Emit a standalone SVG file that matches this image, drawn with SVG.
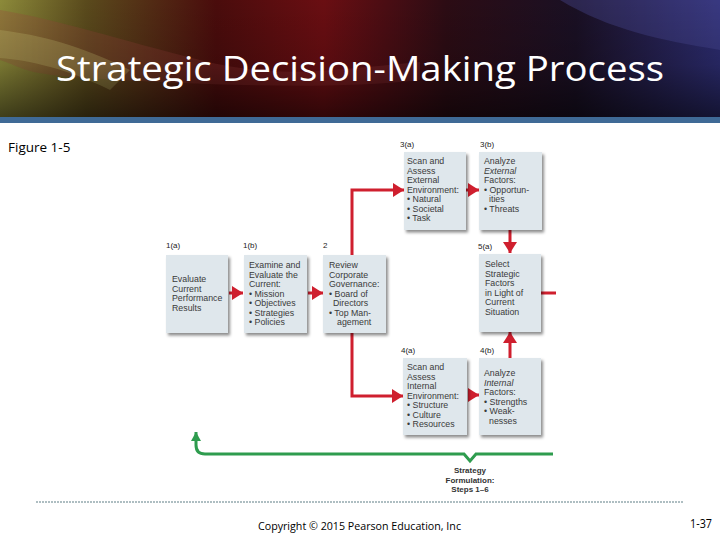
<svg xmlns="http://www.w3.org/2000/svg" width="720" height="540" viewBox="0 0 720 540">
<defs>
<style>
.box{fill:#dfe7ec;filter:url(#sh)}
.t{font-family:"Liberation Sans",Arial,sans-serif;font-size:8.8px;fill:#3a3a3a}
.lb{font-family:"Liberation Sans",Arial,sans-serif;font-size:8px;fill:#222}
.red{stroke:#cf1f2e;stroke-width:3;fill:none}
.grn{stroke:#2e9c4e;stroke-width:3;fill:none}
</style>
<filter id="sh" x="-20%" y="-20%" width="140%" height="140%">
<feDropShadow dx="2" dy="2.5" stdDeviation="1.6" flood-color="#000" flood-opacity="0.45"/>
</filter>
<marker id="ar" markerUnits="userSpaceOnUse" markerWidth="12" markerHeight="14" refX="11" refY="7" orient="auto">
<path d="M0,0 L11,7 L0,14 Z" fill="#cf1f2e"/>
</marker>
<marker id="ag" markerUnits="userSpaceOnUse" markerWidth="10" markerHeight="10" refX="9" refY="5" orient="auto">
<path d="M0,0 L9,5 L0,10 Z" fill="#2e9c4e"/>
</marker>
<linearGradient id="hg" x1="0" y1="0" x2="1" y2="0">
<stop offset="0" stop-color="#8c8a3a"/>
<stop offset="0.12" stop-color="#5a4a1c"/>
<stop offset="0.3" stop-color="#4a0c0c"/>
<stop offset="0.45" stop-color="#6a0e12"/>
<stop offset="0.62" stop-color="#2c0c14"/>
<stop offset="0.8" stop-color="#1a1024"/>
<stop offset="1" stop-color="#2c2c70"/>
</linearGradient>
<linearGradient id="hv" x1="0" y1="0" x2="0" y2="1">
<stop offset="0" stop-color="#000" stop-opacity="0"/>
<stop offset="0.55" stop-color="#000" stop-opacity="0.15"/>
<stop offset="1" stop-color="#000" stop-opacity="0.55"/>
</linearGradient>
</defs>
<rect width="720" height="540" fill="#ffffff"/>
<g id="header">
<rect x="0" y="0" width="720" height="118" fill="url(#hg)"/>
<path d="M0,10 C60,20 120,40 200,60 S330,70 420,62 L420,80 C330,90 220,85 120,80 S30,70 0,60 Z" fill="#a04040" opacity="0.25"/>
<path d="M0,30 C40,35 80,45 130,70 L110,90 C70,70 30,60 0,58 Z" fill="#c8c070" opacity="0.3"/>
<path d="M560,0 L720,0 L720,50 C660,40 610,30 560,0 Z" fill="#5050a0" opacity="0.35"/>
<rect x="0" y="0" width="720" height="118" fill="url(#hv)"/>
<rect x="0" y="117" width="720" height="6" fill="#3f6a96"/>
<text x="56" y="81" font-family="'Open Sans','Liberation Sans',sans-serif" font-size="35" fill="#ffffff" textLength="608" lengthAdjust="spacingAndGlyphs">Strategic Decision-Making Process</text>
</g>
<text x="8" y="152" font-family="'Open Sans','Liberation Sans',sans-serif" font-size="13.5" fill="#000">Figure 1-5</text>
<g id="connectors">
<line class="red" x1="229" y1="293" x2="243" y2="293" marker-end="url(#ar)"/>
<line class="red" x1="308" y1="293" x2="323" y2="293" marker-end="url(#ar)"/>
<polyline class="red" points="352,255 352,190 404,190" marker-end="url(#ar)"/>
<polyline class="red" points="352,333 352,396 403,396" marker-end="url(#ar)"/>
<line class="red" x1="466" y1="190" x2="479" y2="190" marker-end="url(#ar)"/>
<line class="red" x1="468" y1="395" x2="479" y2="395" marker-end="url(#ar)"/>
<line class="red" x1="510" y1="230" x2="510" y2="253" marker-end="url(#ar)"/>
<line class="red" x1="510" y1="358" x2="510" y2="332" marker-end="url(#ar)"/>
<line class="red" x1="541" y1="293" x2="556" y2="293"/>
<path class="grn" d="M553,454 H476 L470,461 L464,454 H205 Q196,454 196,445 V432" marker-end="url(#ag)"/>
</g>
<g id="n1a">
<rect class="box" x="166" y="255" width="62" height="78"/>
<text class="lb" x="166" y="248">1(a)</text>
<text class="t" x="172" y="282">Evaluate</text>
<text class="t" x="172" y="291.5">Current</text>
<text class="t" x="172" y="301">Performance</text>
<text class="t" x="172" y="310.5">Results</text>
</g>
<g id="n1b">
<rect class="box" x="244" y="255" width="63" height="78"/>
<text class="lb" x="243" y="248">1(b)</text>
<text class="t" x="249" y="268">Examine and</text>
<text class="t" x="249" y="277.5">Evaluate the</text>
<text class="t" x="249" y="287">Current:</text>
<text class="t" x="249" y="296.5">• Mission</text>
<text class="t" x="249" y="306">• Objectives</text>
<text class="t" x="249" y="315.5">• Strategies</text>
<text class="t" x="249" y="325">• Policies</text>
</g>
<g id="n2">
<rect class="box" x="323" y="255" width="63" height="78"/>
<text class="lb" x="323" y="248">2</text>
<text class="t" x="329" y="268">Review</text>
<text class="t" x="329" y="277.5">Corporate</text>
<text class="t" x="329" y="287">Governance:</text>
<text class="t" x="329" y="296.5">• Board of</text>
<text class="t" x="333" y="306">Directors</text>
<text class="t" x="329" y="315.5">• Top Man-</text>
<text class="t" x="337" y="325">agement</text>
</g>
<g id="n3a">
<rect class="box" x="404" y="152" width="62" height="78"/>
<text class="lb" x="400" y="147">3(a)</text>
<text class="t" x="407" y="164">Scan and</text>
<text class="t" x="407" y="173.5">Assess</text>
<text class="t" x="407" y="183">External</text>
<text class="t" x="407" y="192.5">Environment:</text>
<text class="t" x="407" y="202">• Natural</text>
<text class="t" x="407" y="211.5">• Societal</text>
<text class="t" x="407" y="221">• Task</text>
</g>
<g id="n3b">
<rect class="box" x="479" y="152" width="63" height="78"/>
<text class="lb" x="480" y="147">3(b)</text>
<text class="t" x="484" y="164">Analyze</text>
<text class="t" x="484" y="173.5" font-style="italic">External</text>
<text class="t" x="484" y="183">Factors:</text>
<text class="t" x="484" y="192.5">• Opportun-</text>
<text class="t" x="489" y="202">ities</text>
<text class="t" x="484" y="211.5">• Threats</text>
</g>
<g id="n5a">
<rect class="box" x="479" y="254" width="62" height="78"/>
<text class="lb" x="478" y="249">5(a)</text>
<text class="t" x="485" y="267">Select</text>
<text class="t" x="485" y="276.5">Strategic</text>
<text class="t" x="485" y="286">Factors</text>
<text class="t" x="485" y="295.5">in Light of</text>
<text class="t" x="485" y="305">Current</text>
<text class="t" x="485" y="314.5">Situation</text>
</g>
<g id="n4a">
<rect class="box" x="403" y="358" width="64" height="77"/>
<text class="lb" x="401" y="353">4(a)</text>
<text class="t" x="407" y="370">Scan and</text>
<text class="t" x="407" y="379.5">Assess</text>
<text class="t" x="407" y="389">Internal</text>
<text class="t" x="407" y="398.5">Environment:</text>
<text class="t" x="407" y="408">• Structure</text>
<text class="t" x="407" y="417.5">• Culture</text>
<text class="t" x="407" y="427">• Resources</text>
</g>
<g id="n4b">
<rect class="box" x="479" y="358" width="62" height="77"/>
<text class="lb" x="480" y="353">4(b)</text>
<text class="t" x="484" y="376">Analyze</text>
<text class="t" x="484" y="385.5" font-style="italic">Internal</text>
<text class="t" x="484" y="395">Factors:</text>
<text class="t" x="484" y="404.5">• Strengths</text>
<text class="t" x="484" y="414">• Weak-</text>
<text class="t" x="489" y="423.5">nesses</text>
</g>
<g id="formulation" font-family="'Liberation Sans',Arial,sans-serif" font-size="8" font-weight="bold" fill="#333" text-anchor="middle">
<text x="470" y="473">Strategy</text>
<text x="470" y="482.5">Formulation:</text>
<text x="470" y="492">Steps 1–6</text>
</g>
<line x1="36" y1="502" x2="684" y2="502" stroke="#5f7f86" stroke-width="1.2" stroke-dasharray="2,1"/>
<text x="258" y="530" font-family="'Open Sans','Liberation Sans',sans-serif" font-size="11" fill="#000" textLength="203" lengthAdjust="spacingAndGlyphs">Copyright © 2015 Pearson Education, Inc</text>
<text x="690" y="528" font-family="'Open Sans','Liberation Sans',sans-serif" font-size="12" fill="#000" textLength="22" lengthAdjust="spacingAndGlyphs">1-37</text>
</svg>
